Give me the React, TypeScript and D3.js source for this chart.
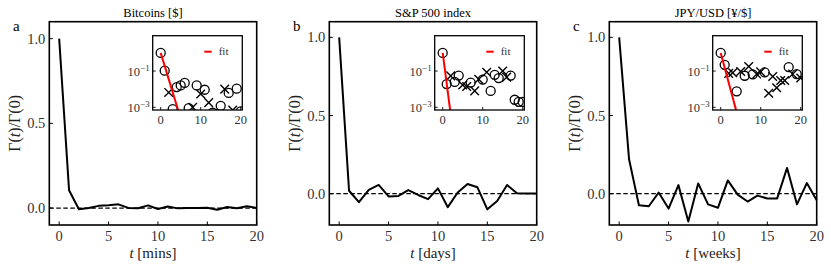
import React from 'react';
import * as d3 from 'd3';

// lag index shared by all three panels
const lags = [0, 1, 2, 3, 4, 5, 6, 7, 8, 9, 10, 11, 12, 13, 14, 15, 16, 17, 18, 19, 20];

// normalised autocorrelation Γ(t)/Γ(0)
const bitcoinAcf = [1.0, 0.105, -0.0066, 0.0008, 0.013, 0.016, 0.022, 0.0009, -0.001, 0.016, -0.0054, 0.0093, -0.0018, 0.0005, 0.0004, 0.0012, -0.01, 0.0062, -0.0007, 0.0107, 0.0006];
const spAcf = [1.0, 0.019, -0.054, 0.025, 0.056, -0.017, -0.014, 0.023, -0.008, -0.035, 0.034, -0.086, 0.008, 0.062, 0.041, -0.1, -0.046, 0.056, 0.0026, 0.002, 0.002];
const jpyAcf = [1.0, 0.22, -0.074, -0.08, 0.0076, -0.095, 0.055, -0.178, 0.066, -0.068, -0.09, 0.085, -0.006, -0.05, -0.012, -0.03, -0.03, 0.165, -0.068, 0.068, -0.041];

// exponential fit, drawn as a straight line on the log inset: [t, value]
const bitcoinFit: [number, number][] = [[0, 1], [4.35, 0.0007]];
const spFit: [number, number][] = [[0, 1], [1.86, 0.0007]];
const jpyFit: [number, number][] = [[0, 1], [3.84, 0.0007]];

const titles = ['Bitcoins [$]', 'S&P 500 index', 'JPY/USD [¥/$]'];
const units = ['mins', 'days', 'weeks'];
const letters = ['a', 'b', 'c'];
const yMins = [-0.1, -0.2, -0.2];

const mainXTicks = [0, 5, 10, 15, 20];
const mainYTicks = [0, 0.5, 1.0];
const insetXTicks = [0, 10, 20];
const insetYTicks = [1e-1, 1e-3];
const insetYExp = ['−1', '−3'];

type PanelProps = {
  index: number;
  values: number[];
  fit: [number, number][];
  insetShift: number;
};

const Panel = ({ index, values, fit, insetShift }: PanelProps) => {
  const left = 49.3 + 280 * index;
  const top = 21.7;
  const w = 207.4;
  const h = 203.3;

  // main axes
  const x = d3.scaleLinear().domain([-1, 20]).range([left, left + w]);
  const y = d3.scaleLinear().domain([yMins[index], 1.1]).range([top + h, top]);
  const mainLine = d3
    .line<number>()
    .x((_, i) => x(lags[i]))
    .y((d) => y(d))(values);

  // inset axes (log scale of |Γ|)
  const il = left + 103.4 + insetShift;
  const it = 35.7;
  const iw = 89.6;
  const ih = 74.3;
  const ix = d3.scaleLinear().domain([-2, 20.4]).range([il, il + iw]);
  const iy = d3
    .scaleLog()
    .domain([Math.pow(10, -3.15), Math.pow(10, 0.95)])
    .range([it + ih, it]);
  const fitLine = d3
    .line<[number, number]>()
    .x((d) => ix(d[0]))
    .y((d) => iy(d[1]))(fit);
  const clipId = `inset-clip-${index}`;
  const tickLen = 3.5;

  return (
    <g>
      {/* title and panel letter */}
      <text x={left + w / 2} y={17} fontSize={12.5} textAnchor="middle">
        {titles[index]}
      </text>
      <text x={13 + 280 * index} y={31} fontSize={15}>
        {letters[index]}
      </text>

      {/* zero line */}
      <line x1={left} x2={left + w} y1={y(0)} y2={y(0)} stroke="#000" strokeWidth={1.2} strokeDasharray="4.5,2.5" />
      <path d={mainLine ?? ''} fill="none" stroke="#000" strokeWidth={2} strokeLinejoin="round" />

      {/* ticks (pointing in) */}
      {mainXTicks.map((t) => (
        <g key={`xt${t}`}>
          <line x1={x(t)} x2={x(t)} y1={top + h} y2={top + h - tickLen} stroke="#000" strokeWidth={1} />
          <text x={x(t)} y={241} fontSize={14.5} textAnchor="middle" fill="#333">
            {t}
          </text>
        </g>
      ))}
      {mainYTicks.map((t) => (
        <g key={`yt${t}`}>
          <line x1={left} x2={left + tickLen} y1={y(t)} y2={y(t)} stroke="#000" strokeWidth={1} />
          <text x={left - 4} y={y(t)} dy="0.35em" fontSize={14.5} textAnchor="end" fill="#333">
            {d3.format('.1f')(t)}
          </text>
        </g>
      ))}
      <rect x={left} y={top} width={w} height={h} fill="none" stroke="#000" strokeWidth={1.6} />

      {/* axis labels */}
      <text x={left + w / 2} y={258} fontSize={15} textAnchor="middle" fill="#222">
        <tspan fontStyle="italic">t</tspan>
        <tspan> [{units[index]}]</tspan>
      </text>
      <text
        transform={`translate(${left - 29},${top + h / 2}) rotate(-90)`}
        fontSize={16}
        textAnchor="middle"
        fill="#222"
      >
        <tspan>Γ(</tspan>
        <tspan fontStyle="italic">t</tspan>
        <tspan>)/Γ(0)</tspan>
      </text>

      {/* inset */}
      <defs>
        <clipPath id={clipId}>
          <rect x={il} y={it} width={iw} height={ih} />
        </clipPath>
      </defs>
      <rect x={il} y={it} width={iw} height={ih} fill="#fff" />
      <g clipPath={`url(#${clipId})`}>
        {values.map((v, i) =>
          v > 0 ? (
            <circle key={`c${i}`} cx={ix(lags[i])} cy={iy(v)} r={4.5} fill="none" stroke="#000" strokeWidth={1.3} />
          ) : (
            <path
              key={`x${i}`}
              d={`M${ix(lags[i]) - 4.3},${iy(-v) - 4.3}L${ix(lags[i]) + 4.3},${iy(-v) + 4.3}M${ix(lags[i]) - 4.3},${iy(-v) + 4.3}L${ix(lags[i]) + 4.3},${iy(-v) - 4.3}`}
              stroke="#000"
              strokeWidth={1.4}
              fill="none"
            />
          )
        )}
        <path d={fitLine ?? ''} stroke="#ff0000" strokeWidth={2} fill="none" />
      </g>
      {insetXTicks.map((t) => (
        <g key={`ixt${t}`}>
          <line x1={ix(t)} x2={ix(t)} y1={it + ih} y2={it + ih - 3} stroke="#000" strokeWidth={0.9} />
          <text x={ix(t)} y={it + ih + 13.5} fontSize={12.5} textAnchor="middle" fill="#333">
            {t}
          </text>
        </g>
      ))}
      {insetYTicks.map((t, k) => (
        <g key={`iyt${t}`}>
          <line x1={il} x2={il + 3} y1={iy(t)} y2={iy(t)} stroke="#000" strokeWidth={0.9} />
          <text x={il - 3} y={iy(t) + 4.5} fontSize={12.5} textAnchor="end" fill="#333">
            <tspan>10</tspan>
            <tspan dy={-5} fontSize={9}>
              {insetYExp[k]}
            </tspan>
          </text>
        </g>
      ))}
      <rect x={il} y={it} width={iw} height={ih} fill="none" stroke="#000" strokeWidth={1.3} />

      {/* legend */}
      <line x1={il + 51.6} x2={il + 59} y1={it + 16} y2={it + 16} stroke="#ff0000" strokeWidth={2} />
      <text x={il + 66} y={it + 19.5} fontSize={11} fill="#333">
        fit
      </text>
    </g>
  );
};

const App = () => {
  return (
    <svg
      width={831}
      height={270}
      style={{
        position: 'absolute',
        left: 0,
        top: 0,
        background: '#fff',
        fontFamily: '"Liberation Serif", "DejaVu Serif", serif',
      }}
    >
      <Panel index={0} values={bitcoinAcf} fit={bitcoinFit} insetShift={0} />
      <Panel index={1} values={spAcf} fit={spFit} insetShift={2} />
      <Panel index={2} values={jpyAcf} fit={jpyFit} insetShift={0} />
    </svg>
  );
};

export default App;
